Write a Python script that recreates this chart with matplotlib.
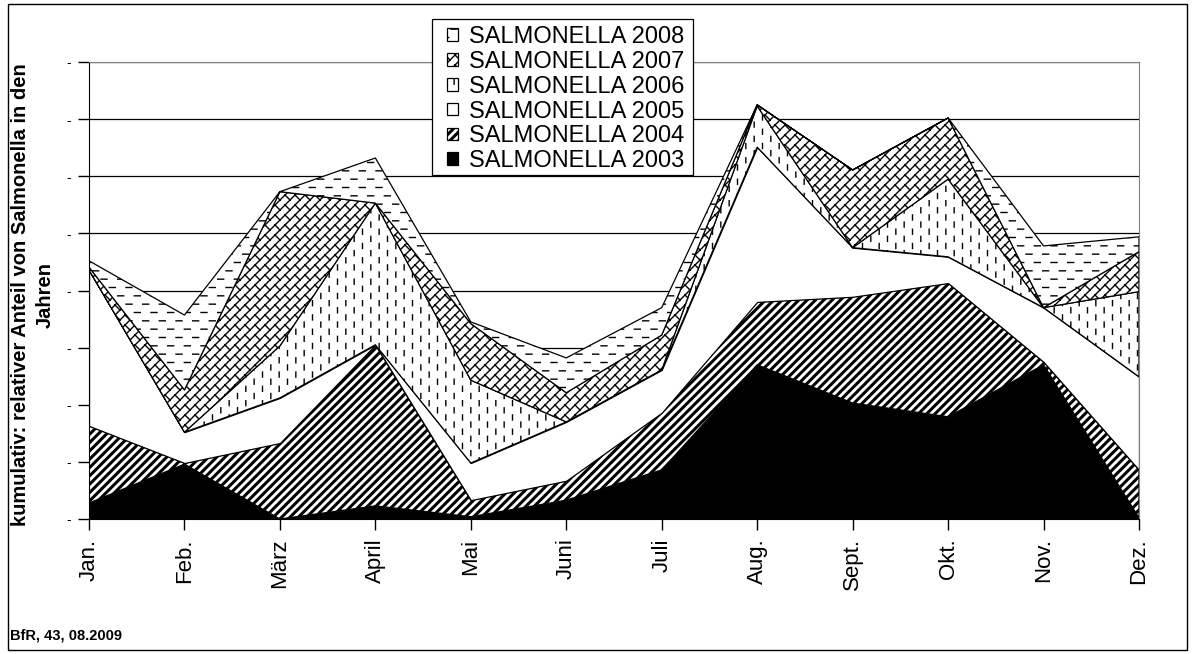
import warnings
import numpy as np
import matplotlib
matplotlib.use('Agg')
import matplotlib.pyplot as plt
import matplotlib.hatch as mhatch
from matplotlib.path import Path
from matplotlib.patches import Rectangle

warnings.filterwarnings('ignore', message='.*hatch must consist.*')

# data (relative share, stacked)
months = ['Jan.', 'Feb.', 'März', 'April', 'Mai', 'Juni', 'Juli', 'Aug.', 'Sept.', 'Okt.', 'Nov.', 'Dez.']
s2003 = [0.28, 0.96, 0.00, 0.23, 0.04, 0.33, 0.86, 2.70, 2.03, 1.79, 2.70, 0.02]
s2004 = [1.35, 0.02, 1.33, 2.82, 0.29, 0.34, 1.00, 1.10, 1.86, 2.34, 0.05, 0.84]
s2005 = [2.73, 0.54, 0.79, 0.00, 0.65, 1.03, 0.75, 2.71, 0.86, 0.46, 0.95, 1.63]
s2006 = [0.00, 0.00, 0.91, 2.48, 1.45, 0.00, 0.00, 0.72, 0.00, 1.36, 0.00, 1.49]
s2007 = [0.05, 0.74, 2.70, 0.00, 0.99, 0.51, 0.61, 0.02, 1.36, 1.07, 0.00, 0.70]
s2008 = [0.11, 1.31, 0.00, 0.79, 0.03, 0.61, 0.48, 0.00, 0.00, 0.00, 1.08, 0.26]
labels = ['SALMONELLA 2003', 'SALMONELLA 2004', 'SALMONELLA 2005',
          'SALMONELLA 2006', 'SALMONELLA 2007', 'SALMONELLA 2008']


# ---------------------------------------------------------------------------
# Excel-like fill patterns as extra hatch types
def seg_pattern(segs):
    segs = np.asarray(segs, float).reshape(-1, 2, 2)
    verts = segs.reshape(-1, 2)
    codes = np.tile([Path.MOVETO, Path.LINETO], len(segs)).astype(Path.code_type)
    return verts, codes


def vdash():
    segs = []
    for i in range(12):
        x = (i + 0.5) / 12
        for j in range(7):
            yc = (j + 0.5 * (i % 2)) / 7 + 0.04
            segs.append([[x, yc - 0.025], [x, yc + 0.025]])
    return seg_pattern(segs)


def hdash():
    segs = []
    for j in range(12):
        y = (j + 0.5) / 12
        for i in range(6):
            xc = (i + 0.5 * (j % 2)) / 6 + 0.04
            segs.append([[xc - 0.03, y], [xc + 0.03, y]])
    return seg_pattern(segs)


def brick(n=10, m=10):
    # long "/" lines plus short "\" joints, staggered by half a brick
    segs = []
    for k in range(-n, n + 1):
        c = k / n
        segs.append([[-0.05, -0.05 + c], [1.05, 1.05 + c]])
    for k in range(-n - 1, n + 1):
        c = k / n
        for j in range(-2 * m, 3 * m):
            s = (j + 0.5 * (k % 2)) * 2.0 / m
            x0 = (s - c) / 2
            y0 = x0 + c
            x1, y1 = x0 - 0.5 / n, y0 + 0.5 / n
            if max(x0, x1) < 0 or min(x0, x1) > 1 or max(y0, y1) < 0 or min(y0, y1) > 1:
                continue
            segs.append([[x0, y0], [x1, y1]])
    return seg_pattern(segs)


def stripes(n=12, w=0.023):
    verts, codes = [], []
    for k in range(-n - 1, n + 1):
        c = k / n
        verts += [(-0.1, -0.1 + c), (1.1, 1.1 + c), (1.1, 1.1 + c + w), (-0.1, -0.1 + c + w), (0, 0)]
        codes += [Path.MOVETO, Path.LINETO, Path.LINETO, Path.LINETO, Path.CLOSEPOLY]
    return np.array(verts, float), np.array(codes, Path.code_type)


def make_hatch(ch, builder):
    class _H(mhatch.HatchPatternBase):
        def __init__(self, hatch, density):
            if ch in hatch:
                self.verts, self.codes = builder()
            else:
                self.verts, self.codes = np.empty((0, 2)), np.empty(0, Path.code_type)
            self.num_vertices = len(self.verts)

        def set_vertices_and_codes(self, vertices, codes):
            vertices[:] = self.verts
            codes[:] = self.codes
    return _H


mhatch._hatch_types.extend([make_hatch('v', vdash), make_hatch('h', hdash),
                            make_hatch('b', brick), make_hatch('s', stripes)])

# ---------------------------------------------------------------------------
plt.rcParams['font.family'] = ['Liberation Sans', 'DejaVu Sans']
plt.rcParams['hatch.linewidth'] = 1.0
plt.rcParams['hatch.color'] = 'black'

W, H = 1195, 654
fig = plt.figure(figsize=(W / 100, H / 100), dpi=100)
ax = fig.add_axes([89 / W, 1 - 519 / H, (1139 - 89) / W, (519 - 62) / H])

x = np.arange(len(months))
series = [s2003, s2004, s2005, s2006, s2007, s2008]
faces = ['black', 'white', 'white', 'white', 'white', 'white']
hatches = [None, 's', None, 'v', 'b', 'h']

bottom = np.zeros(len(months))
handles = []
for vals, fc, hh, lab in zip(series, faces, hatches, labels):
    top = bottom + np.array(vals)
    coll = ax.fill_between(x, bottom, top, facecolor=fc, edgecolor='black',
                           linewidth=0.9, hatch=hh, label=lab, zorder=2)
    handles.append(coll)
    bottom = top

ax.set_xlim(0, len(months) - 1)
ax.set_ylim(0, 8)
ax.set_yticks(range(0, 9))
ax.set_yticklabels(['-'] * 9, fontsize=10)
ax.set_xticks(x)
ax.set_xticklabels(months, rotation=90, fontsize=16)
ax.tick_params(axis='y', length=8, width=1, pad=5)
ax.tick_params(axis='x', length=8, width=1, pad=6)
ax.grid(axis='y', color='black', linewidth=0.9)
ax.set_axisbelow(True)
for side in ['top', 'right']:
    ax.spines[side].set_color('#808080')
for side in ['left', 'bottom']:
    ax.spines[side].set_color('black')

# legend box drawn separately (Excel leaves extra room on the right)
fig.patches.append(Rectangle((432 / W, 1 - 175 / H), (693 - 432) / W, (175 - 19) / H,
                             transform=fig.transFigure, facecolor='white',
                             edgecolor='black', linewidth=0.9, zorder=3))
leg = fig.legend(handles[::-1], labels[::-1], loc='upper left',
                 bbox_to_anchor=(447 / W, 1 - 26 / H), bbox_transform=fig.transFigure,
                 fontsize=17, frameon=False, borderpad=0, labelspacing=0.12,
                 handlelength=0.45, handleheight=0.45, handletextpad=0.5, borderaxespad=0)
leg.set_zorder(4)

fig.text(33 / W, 1 - 295 / H, 'kumulativ: relativer Anteil von Salmonella in den\nJahren',
         rotation=90, ha='center', va='center', fontsize=14.5, fontweight='bold',
         multialignment='center', linespacing=1.4)
fig.text(10 / W, 1 - 635 / H, 'BfR, 43, 08.2009', fontsize=10.5, fontweight='bold',
         ha='left', va='center')

fig.patches.append(Rectangle((8 / W, 4 / H), (1187 - 8) / W, (650 - 4) / H,
                             transform=fig.transFigure, fill=False,
                             edgecolor='black', linewidth=1))

fig.savefig('out.png', dpi=100)
